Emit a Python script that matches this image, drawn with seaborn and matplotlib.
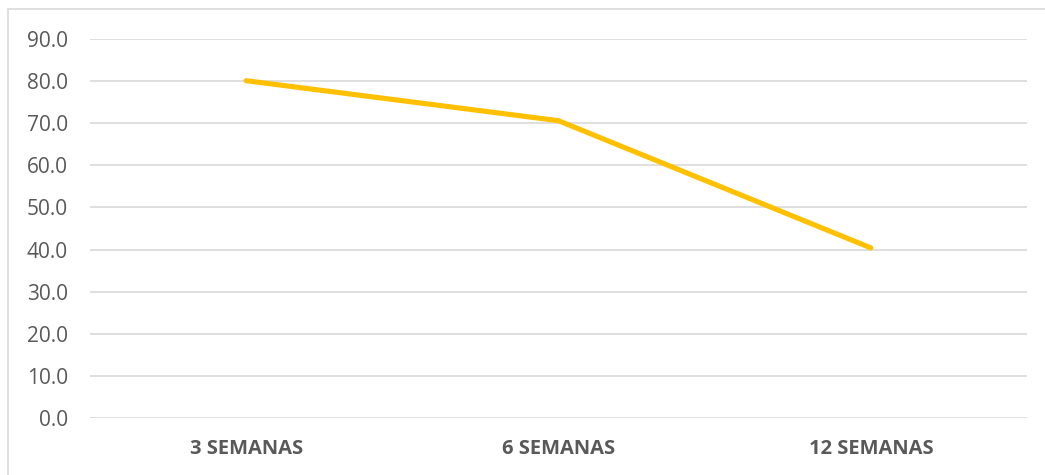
import matplotlib
matplotlib.use("Agg")
import matplotlib.pyplot as plt
import seaborn as sns
import pandas as pd
from matplotlib.patches import Rectangle

# Data
periodos = ["3 SEMANAS", "6 SEMANAS", "12 SEMANAS"]
valores = [80.1, 70.6, 40.4]
y_ticks = [0, 10, 20, 30, 40, 50, 60, 70, 80, 90]

df = pd.DataFrame({"periodo": periodos, "valor": valores})

sns.set_theme(style="white")
plt.rcParams["font.family"] = ["Open Sans", "DejaVu Sans"]

fig = plt.figure(figsize=(10.45, 4.75), dpi=100)
ax = fig.add_axes([90 / 1045, 57 / 475, 937 / 1045, 379 / 475])

# chart frame
fig.patches.append(Rectangle((8 / 1045, -0.1), 1.2, (475 - 9) / 475 + 0.1,
                             transform=fig.transFigure, fill=False,
                             edgecolor="#d9d9d9", linewidth=1.2, zorder=0))

for t in y_ticks:
    ax.axhline(t, color="#d9d9d9", linewidth=1.2, zorder=0)

sns.lineplot(data=df, x="periodo", y="valor", sort=False, ax=ax,
             color="#FFC000", linewidth=3.7, solid_capstyle="round", zorder=3)

ax.set_xlim(-0.5, 2.5)
ax.set_ylim(0, 90)
ax.set_yticks(y_ticks)
ax.set_yticklabels([f"{t:.1f}" for t in y_ticks], fontsize=15, color="#595959")
ax.set_xticks(range(len(periodos)))
ax.set_xticklabels(periodos, fontsize=14.5, fontweight="bold", color="#595959")
ax.tick_params(axis="y", length=0, pad=16)
ax.tick_params(axis="x", length=0, pad=15)
ax.set_xlabel("")
ax.set_ylabel("")
for s in ax.spines.values():
    s.set_visible(False)
ax.set_facecolor("none")

fig.savefig("out.png", dpi=100)
